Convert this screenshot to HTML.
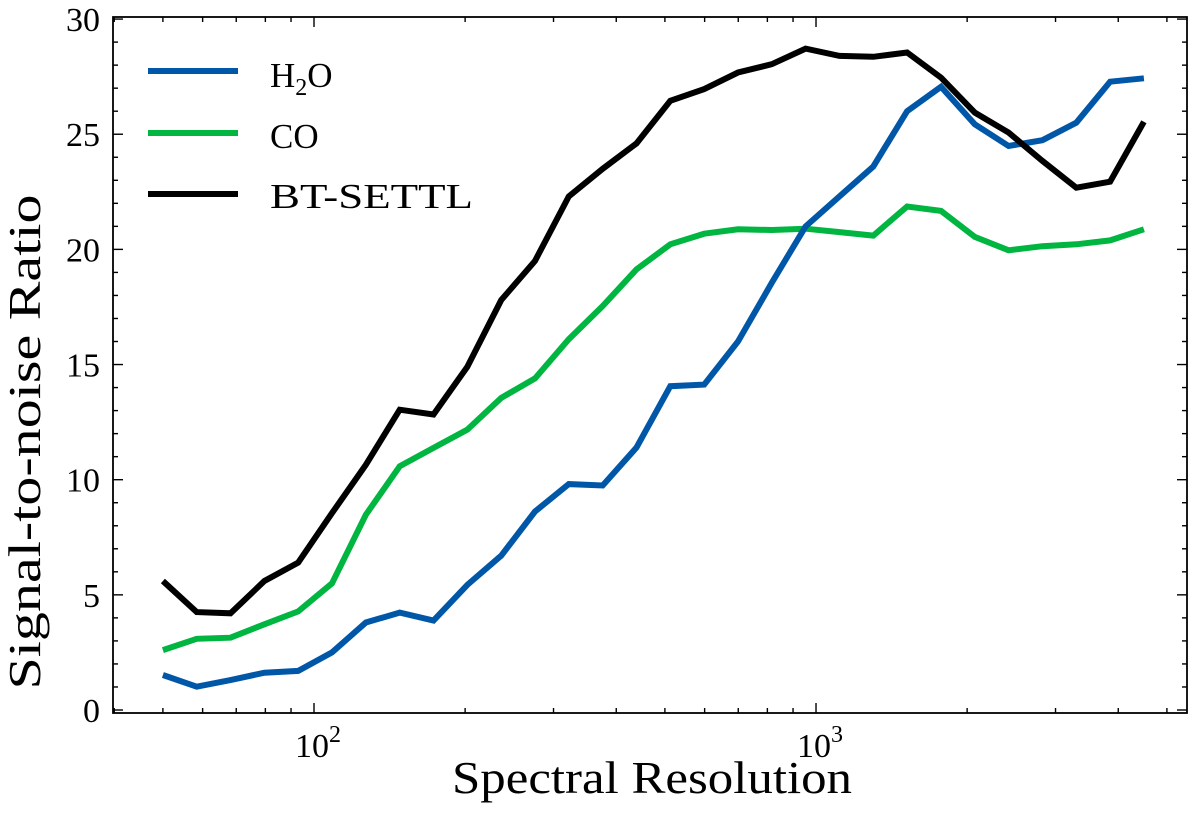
<!DOCTYPE html>
<html><head><meta charset="utf-8"><style>
body{margin:0;background:#fff}
svg text{font-family:"Liberation Serif",serif;fill:#000}
</style></head><body>
<svg id="chart" width="1200" height="827" xmlns="http://www.w3.org/2000/svg">
<g id="plot"></g>
<g>
<g><line x1="148" y1="71" x2="238" y2="71" stroke="#0057a8" stroke-width="6"/><text x="270" y="87" font-size="35">H<tspan font-size="24" dy="8">2</tspan><tspan dy="-8">O</tspan></text></g>
<g><line x1="148" y1="133" x2="238" y2="133" stroke="#00b540" stroke-width="6"/><text x="270" y="148" font-size="35">CO</text></g>
<g><line x1="148" y1="194" x2="238" y2="194" stroke="#000" stroke-width="6"/><text x="270" y="208" font-size="35" textLength="203" lengthAdjust="spacingAndGlyphs">BT-SETTL</text></g>
</g>
<text x="652" y="793" text-anchor="middle" font-size="46" textLength="400" lengthAdjust="spacingAndGlyphs">Spectral Resolution</text>
<text x="0" y="0" text-anchor="middle" font-size="46" textLength="495" lengthAdjust="spacingAndGlyphs" transform="translate(40,442) rotate(-90)">Signal-to-noise Ratio</text>
</svg>
<script>
const resolutionStart = 50;
const resolutionEnd = 4500;
const nPoints = 30;
const h2oValues = [1.52,1.01,1.3,1.62,1.7,2.5,3.8,4.23,3.88,5.43,6.7,8.62,9.81,9.75,11.4,14.06,14.13,16.0,18.55,21.0,22.3,23.6,26.0,27.06,25.43,24.49,24.74,25.5,27.28,27.43];
const coValues = [2.6,3.09,3.14,3.72,4.28,5.5,8.48,10.58,11.38,12.17,13.55,14.4,16.1,17.54,19.13,20.22,20.68,20.87,20.84,20.9,20.75,20.6,21.86,21.67,20.54,19.96,20.14,20.22,20.39,20.87];
const btValues = [5.6,4.25,4.2,5.6,6.4,8.55,10.65,13.04,12.83,14.9,17.8,19.5,22.3,23.5,24.6,26.45,26.96,27.68,28.04,28.72,28.4,28.36,28.55,27.46,25.94,25.07,23.84,22.68,22.94,25.54];
const yTickLabels = [0,5,10,15,20,25,30];

const L=113,R=1187,T=17,B=713;
const xMinLog=1.5996, xMaxLog=3.739, yMin=-0.13, yMax=30.09;
const xs=v=>L+(Math.log10(v)-xMinLog)/(xMaxLog-xMinLog)*(R-L);
const ys=v=>B-(v-yMin)/(yMax-yMin)*(B-T);
const NS="http://www.w3.org/2000/svg";
const g=document.getElementById('plot');
function mk(tag,attrs,parent){const e=document.createElementNS(NS,tag);for(const k in attrs)e.setAttribute(k,attrs[k]);(parent||g).appendChild(e);return e;}

const res=[];
for(let i=0;i<nPoints;i++){res.push(Math.pow(10,Math.log10(resolutionStart)+i*(Math.log10(resolutionEnd)-Math.log10(resolutionStart))/(nPoints-1)));}

const ticks=mk('g',{});


for(let v=0;v<=30;v++){
  const y=ys(v), len=(v%5===0)?10:5;
  mk('line',{x1:L,x2:L+len,y1:y,y2:y,stroke:'#000','stroke-width':1.4},ticks);
  mk('line',{x1:R,x2:R-len,y1:y,y2:y,stroke:'#000','stroke-width':1.4},ticks);
}
for(let d=1;d<=3;d++){for(let m=1;m<=9;m++){
  const v=m*Math.pow(10,d); const lv=Math.log10(v);
  if(lv<xMinLog||lv>xMaxLog)continue;
  const x=xs(v), len=(m===1)?10:5;
  mk('line',{x1:x,x2:x,y1:B,y2:B-len,stroke:'#000','stroke-width':1.4},ticks);
  mk('line',{x1:x,x2:x,y1:T,y2:T+len,stroke:'#000','stroke-width':1.4},ticks);
}}
yTickLabels.forEach(v=>{
  const t=mk('text',{x:L-13,y:ys(v)+12,'text-anchor':'end','font-size':34});
  t.textContent=v;
  
  
});
[2,3].forEach(p=>{
  const t=mk('text',{x:xs(Math.pow(10,p))+4,y:757,'text-anchor':'middle','font-size':34});
  
  
  const a=document.createElementNS(NS,'tspan');a.textContent='10';t.appendChild(a);
  const b=document.createElementNS(NS,'tspan');b.setAttribute('dy','-15');b.setAttribute('font-size','24');b.textContent=p;t.appendChild(b);
});

function series(vals,color,name){
  const d=vals.map((v,i)=>(i?'L':'M')+xs(res[i]).toFixed(1)+' '+ys(v).toFixed(1)).join(' ');
  const p=mk('path',{d:d,fill:'none',stroke:color,'stroke-width':6,'stroke-linejoin':'miter'});
  
  
}
series(coValues,'#00b540','co-line');
series(h2oValues,'#0057a8','h2o-line');
series(btValues,'#000000','bt-settl-line');

const fr=mk('rect',{x:L,y:T,width:R-L,height:B-T,fill:'none',stroke:'#000','stroke-width':1.8});


</script>
</body></html>
